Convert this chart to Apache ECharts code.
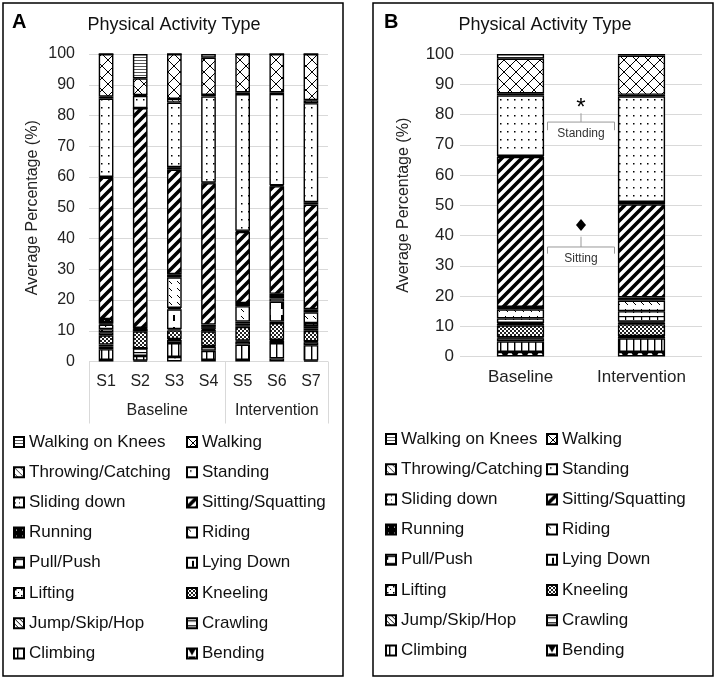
<!DOCTYPE html>
<html><head><meta charset="utf-8">
<script src="https://cdn.jsdelivr.net/npm/echarts@6/dist/echarts.min.js"></script>
<style>html,body{margin:0;padding:0;background:#fff}#c{width:720px;height:680px}</style>
</head><body><div id="c"></div>
<script>
// Stack order, bottom to top
const activities = ['Bending','Climbing','Crawling','Jump/Skip/Hop','Kneeling','Lifting','Lying Down','Pull/Push','Riding','Running','Sitting/Squatting','Sliding down','Standing','Throwing/Catching','Walking','Walking on Knees'];
const subjects = ['S1','S2','S3','S4','S5','S6','S7'];
const phases = ['Baseline','Intervention'];
const subjectGroupLabels = ['Baseline','Intervention'];
const subjectGroupBounds = [0,4,7];
const yTicks = [0,10,20,30,40,50,60,70,80,90,100];

// Panel A values (% per activity, same order as activities)
const S1 = [0.5,3.5,1.0,0.5,3.0,1.0,1.0,1.5,0.3,1.5,46.0,0.2,25.5,0.6,13.9,0];
const S2 = [0.3,1.5,2.5,0,5.5,0.5,0,0.3,0,0.3,71.5,0,4.0,0.2,5.5,7.9];
const S3 = [1.5,4.5,1.0,0.3,2.8,0.4,6.5,0.4,10.0,1.0,34.0,0.8,21.0,1.2,14.6,0];
const S4 = [0.5,3.0,1.3,0.2,4.8,0.5,0.3,0.5,0.2,0.7,46.0,0.2,28.0,0.5,12.1,1.2];
const S5 = [0.5,5.0,1.0,0.3,4.5,0.5,0.5,0.7,5.0,1.0,23.2,0.3,44.5,0.5,12.5,0];
const S6 = [1.0,5.0,0.8,0.2,5.5,0.5,6.5,1.0,0.5,1.0,35.0,0.3,29.7,0.5,12.5,0];
const S7 = [0.3,5.0,1.0,0.2,3.5,0.8,0.7,1.0,3.5,1.0,34.0,0.8,32.2,1.0,15.0,0];
// Panel B values
const baseline = [1.5,3.5,1.0,0.3,4.0,0.5,0.3,1.5,3.0,0.8,49.6,0.3,20.0,0.7,11.5,1.5];
const intervention = [1.5,4.5,0.5,0.2,4.0,0.5,0.3,3.5,3.5,1.0,30.8,0.8,34.9,0.5,13.0,0.5];

// Panel B significance annotations (data units)
const annotations = [
  {label:'Standing', mark:'star', markY:83.5, tickTop:80.4, barY:77.5, sideY:74.8, textY:73.7},
  {label:'Sitting', mark:'diamond', markY:43.5, tickTop:39.6, barY:36.2, sideY:34.0, textY:32.2}
];

const subjectData = [S1,S2,S3,S4,S5,S6,S7];
const phaseData = [baseline, intervention];

function pat(w,h,draw){
  const c=document.createElement('canvas');c.width=w;c.height=h;
  const g=c.getContext('2d');g.fillStyle='#fff';g.fillRect(0,0,w,h);
  g.fillStyle='#000';g.strokeStyle='#000';draw(g,w,h);
  return {image:c,repeat:'repeat'};
}
function diag(g,s,lw,dir){
  g.lineWidth=lw;g.beginPath();
  if(dir>0){g.moveTo(0,s);g.lineTo(s,0);g.moveTo(-s/2,s/2);g.lineTo(s/2,-s/2);g.moveTo(s/2,s*1.5);g.lineTo(s*1.5,s/2);}
  else{g.moveTo(0,0);g.lineTo(s,s);g.moveTo(-s/2,s/2);g.lineTo(s/2,s*1.5);g.moveTo(s/2,-s/2);g.lineTo(s*1.5,s/2);}
  g.stroke();
}
const patterns = {
  'Bending': pat(10,8,g=>{g.beginPath();g.moveTo(1,0);g.lineTo(9,0);g.lineTo(5,7);g.closePath();g.fill();}),
  'Climbing': pat(7,4,g=>g.fillRect(3,0,1.4,4)),
  'Crawling': pat(4,5,g=>g.fillRect(0,2,4,1.2)),
  'Jump/Skip/Hop': pat(5,5,g=>diag(g,5,1,-1)),
  'Kneeling': pat(4,4,g=>{g.fillStyle='#222';g.fillRect(0,0,2,2);g.fillRect(2,2,2,2);}),
  'Lifting': pat(6,6,g=>{g.fillRect(1,1,1.5,1.5);g.fillRect(4,4,1,1);}),
  'Lying Down': pat(12,12,g=>g.fillRect(5,3,2,6)),
  'Pull/Push': pat(8,7,g=>{g.fillRect(0,1,8,1.2);g.fillRect(1,1,1.2,4);}),
  'Riding': pat(8,7,g=>{g.lineWidth=1;g.beginPath();g.moveTo(1,1);g.lineTo(4,4);g.stroke();}),
  'Running': pat(6,6,g=>{g.fillRect(0,0,6,6);g.fillStyle='#fff';g.fillRect(2,2,1,1);}),
  'Sitting/Squatting': pat(10,10,g=>diag(g,10,3.6,1)),
  'Sliding down': pat(4,4,g=>g.fillRect(1,1,1,1)),
  'Standing': pat(7,8,g=>g.fillRect(3,3,1.5,1.5)),
  'Throwing/Catching': pat(6,6,g=>diag(g,6,0.8,-1)),
  'Walking': pat(12,12,g=>{diag(g,12,1,1);diag(g,12,1,-1);}),
  'Walking on Knees': pat(4,3,g=>{g.fillStyle='#555';g.fillRect(0,0,4,1);})
};

const series = [];
activities.forEach((name,i)=>{
  series.push({name,type:'bar',stack:'A',xAxisIndex:0,yAxisIndex:0,barWidth:'43%',
    data:subjectData.map(s=>s[i]),
    itemStyle:{color:patterns[name],borderColor:'#000',borderWidth:1.4},
    emphasis:{disabled:true}});
  series.push({name,type:'bar',stack:'B',xAxisIndex:2,yAxisIndex:1,barWidth:'39%',
    data:phaseData.map(s=>s[i]),
    itemStyle:{color:patterns[name],borderColor:'#000',borderWidth:1.4},
    emphasis:{disabled:true}});
});

const legendNames = activities.slice().reverse();
const col1 = legendNames.filter((_,i)=>i%2===0);
const col2 = legendNames.filter((_,i)=>i%2===1);
function legend(data,left,top){
  return {data,left,top,padding:0,orient:'vertical',itemWidth:10,itemHeight:10,itemGap:10.2,itemTextGap:5,icon:'rect',
    selectedMode:false,textStyle:{fontSize:17,color:'#111',lineHeight:20}};
}

const FONT = 'Liberation Sans, Arial, sans-serif';
const yAxisBase = (grid,fs,margin)=>({type:'value',gridIndex:grid,min:0,max:100,interval:10,
  axisLabel:{fontSize:fs,color:'#222',margin},
  splitLine:{lineStyle:{color:'#d9d9d9',width:1}},axisLine:{show:false},axisTick:{show:false},
  name:'Average Percentage (%)',nameLocation:'middle',nameGap:48,nameTextStyle:{fontSize:16,color:'#222'}});

const chart = echarts.init(document.getElementById('c'));
chart.setOption({
  animation:false,
  textStyle:{fontFamily:FONT},
  grid:[{left:89,top:54,width:239,height:307.5},{left:460,top:54,width:242,height:302.5}],
  xAxis:[
    {type:'category',gridIndex:0,data:subjects,axisLine:{show:false},axisTick:{show:false},
      axisLabel:{fontSize:16,color:'#222',margin:12}},
    {type:'value',gridIndex:0,min:0,max:7,position:'bottom',axisLine:{show:false},splitLine:{show:false},
      axisTick:{show:true,customValues:subjectGroupBounds,length:62,lineStyle:{color:'#d9d9d9'}},
      axisLabel:{customValues:[2,5.5],fontSize:16,color:'#222',margin:41,
        formatter:v=>v===2?subjectGroupLabels[0]:(v===5.5?subjectGroupLabels[1]:'')}},
    {type:'category',gridIndex:1,data:phases,axisLine:{show:false},axisTick:{show:false},
      axisLabel:{fontSize:17,color:'#222',margin:12}}
  ],
  yAxis:[yAxisBase(0,16,14),yAxisBase(1,17,6)],
  legend:[legend(col1,13,432),legend(col2,186,432),legend(col1,385,429),legend(col2,546,429)],
  series
});

// Decorations + annotations
const gfx = [
  {type:'rect',shape:{x:3,y:3,width:340,height:673},style:{fill:'none',stroke:'#000',lineWidth:1.5}},
  {type:'rect',shape:{x:373,y:3,width:340,height:673},style:{fill:'none',stroke:'#000',lineWidth:1.5}},
  {type:'text',x:12,y:22,style:{text:'A',fontSize:20,fontWeight:'bold',fill:'#000',fontFamily:FONT,verticalAlign:'middle'}},
  {type:'text',x:384,y:22,style:{text:'B',fontSize:20,fontWeight:'bold',fill:'#000',fontFamily:FONT,verticalAlign:'middle'}},
  {type:'text',x:174,y:25,style:{text:'Physical Activity Type',fontSize:18,fill:'#111',fontFamily:FONT,align:'center',verticalAlign:'middle'}},
  {type:'text',x:545,y:25,style:{text:'Physical Activity Type',fontSize:18,fill:'#111',fontFamily:FONT,align:'center',verticalAlign:'middle'}}
];
const xb = chart.convertToPixel({xAxisIndex:2},phases[0]);
const xi = chart.convertToPixel({xAxisIndex:2},phases[1]);
const mid = (xb+xi)/2, half = 33.5;
const yp = v=>chart.convertToPixel({yAxisIndex:1},v);
annotations.forEach(a=>{
  const ln = {stroke:'#999',lineWidth:1,fill:'none'};
  gfx.push({type:'polyline',shape:{points:[[mid-half,yp(a.sideY)],[mid-half,yp(a.barY)],[mid+half,yp(a.barY)],[mid+half,yp(a.sideY)]]},style:ln});
  gfx.push({type:'line',shape:{x1:mid,y1:yp(a.barY),x2:mid,y2:yp(a.tickTop)},style:ln});
  gfx.push({type:'text',x:mid,y:yp(a.textY),style:{text:a.label,fontSize:12,fill:'#333',fontFamily:FONT,align:'center',verticalAlign:'middle'}});
  if(a.mark==='star'){
    gfx.push({type:'text',x:mid,y:yp(a.markY)+4,style:{text:'*',fontSize:24,fill:'#000',fontFamily:FONT,align:'center',verticalAlign:'middle'}});
  } else {
    const y=yp(a.markY);
    gfx.push({type:'polygon',shape:{points:[[mid,y-6],[mid+5,y],[mid,y+6],[mid-5,y]]},style:{fill:'#000'}});
  }
});
chart.setOption({graphic:gfx});
</script></body></html>
